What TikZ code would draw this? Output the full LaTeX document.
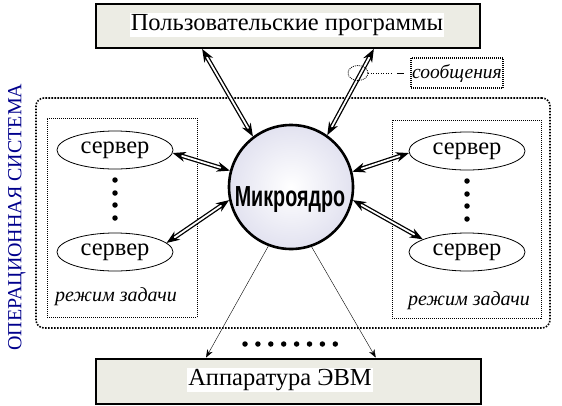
\documentclass[tikz,border=0pt]{standalone}
\usepackage{fontspec}
\setmainfont{Liberation Serif}
\newfontfamily\kernfont{Liberation Sans}
\usetikzlibrary{shapes.geometric,arrows.meta}
\definecolor{boxfill}{RGB}{236,236,228}
\definecolor{ballfill}{RGB}{226,226,240}
\definecolor{osblue}{RGB}{0,0,140}
\begin{document}
\begin{tikzpicture}[x=1pt,y=-1pt,>={Stealth[length=13pt,width=10pt]}]
	\tikzstyle{pbox}=[draw=black,line width=2pt,fill=boxfill,minimum width=384pt,minimum height=44pt,inner sep=0pt]
	\tikzstyle{ptext}=[fill=white,inner sep=1pt,font=\fontsize{24.5}{26}\selectfont]
	\tikzstyle{svertex}=[ellipse,draw=black,thick,fill=white,minimum width=116pt,minimum height=38pt,inner sep=0pt,font=\fontsize{24.5}{26}\selectfont]
	\tikzstyle{kvertex}=[circle,draw=black,line width=2.6pt,inner color=white,outer color=ballfill,minimum size=124pt,inner sep=0pt]
	\tikzstyle{modebox}=[draw=black,line width=1pt,dash pattern=on 1pt off 1pt,inner sep=0pt]
	\tikzstyle{msg}=[<->,double,double distance=1.8pt,line width=1.3pt]
	\tikzstyle{hw}=[->,thin,>={Stealth[length=8pt,width=6pt]}]
	\tikzstyle{dot}=[circle,fill=black,minimum size=5.5pt,inner sep=0pt]
	\tikzstyle{weight}=[font=\itshape\fontsize{20}{22}\selectfont]
	\useasboundingbox (0,0) rectangle (562,405);
	% regions
	\node[modebox,line width=1.6pt,dash pattern=on 1.6pt off 1.4pt,rounded corners=8pt,minimum width=514pt,minimum height=230pt] (os) at (293,213) {};
	\node[modebox,minimum width=150pt,minimum height=199pt] (lmode) at (122,217.5) {};
	\node[modebox,minimum width=149pt,minimum height=198pt] (rmode) at (466.5,219) {};
	\node[rotate=90,text=osblue,font=\fontsize{20}{22}\selectfont] (oslabel) at (17,217) {ОПЕРАЦИОННАЯ СИСТЕМА};
	\node[weight] (lmode-label) at (116,297) {режим задачи};
	\node[weight] (rmode-label) at (469,301) {режим задачи};
	% boxes
	\node[pbox] (progs) at (288,26) {};
	\node[ptext] (progs-text) at (287,25) {Пользовательские программы};
	\node[pbox,minimum width=385pt,minimum height=45pt] (hw) at (288,381) {};
	\node[ptext] (hw-text) at (280,380) {Аппаратура ЭВМ};
	% servers and kernel
	\node[svertex] (ls1) at (115,150) {сервер};
	\node[svertex] (ls2) at (115,252) {сервер};
	\node[svertex] (rs1) at (467,151) {сервер};
	\node[svertex] (rs2) at (467,252) {сервер};
	\node[kvertex] (mk) at (291,187) {};
	\node[font=\kernfont\bfseries\fontsize{29}{30}\selectfont] (mk-text) at (290,200) {\scalebox{0.68}[1]{Микроядро}};
	\foreach \y in {180,193,205,218} {
		\node[dot] (ldot-\y) at (115,\y) {};
		\node[dot] (rdot-\y) at (467,\y+1) {};
	}
	\foreach \i in {0,...,7} {
		\node[dot] (hdot-\i) at (245+12.9*\i,344) {};
	}
	% messages
	\draw[msg] (progs.-165) -- (mk.127);
	\draw[msg] (progs.-15) -- (mk.55);
	\draw[msg] (ls1.-3) -- (mk.165);
	\draw[msg] (ls2.10) -- (mk.192);
	\draw[msg] (mk.14) -- (rs1.182);
	\draw[msg] (mk.-12) -- (rs2.164);
	\draw[hw] (mk.-111) -- (hw.164);
	\draw[hw] (mk.-71) -- (hw.15);
	\node[ellipse,draw=black,line width=0.8pt,dash pattern=on 1pt off 1pt,minimum width=20pt,minimum height=15pt,inner sep=0pt] (msgmark) at (358,73) {};
	\node[modebox,line width=1.3pt,minimum width=92pt,minimum height=30pt,weight,font=\itshape\fontsize{19.5}{21}\selectfont] (msglabel) at (457,73) {сообщения};
	\draw[-,line width=0.8pt,dash pattern=on 1pt off 1.5pt on 1pt off 1.5pt on 1pt off 1.5pt on 1pt off 1.5pt on 1pt off 1.5pt on 1pt off 1.5pt on 1pt off 1.5pt on 1pt off 1.5pt on 1pt off 1.5pt on 1pt off 5pt on 7pt off 50pt] (msgmark.east) -- (msglabel.west);
\end{tikzpicture}
\end{document}
